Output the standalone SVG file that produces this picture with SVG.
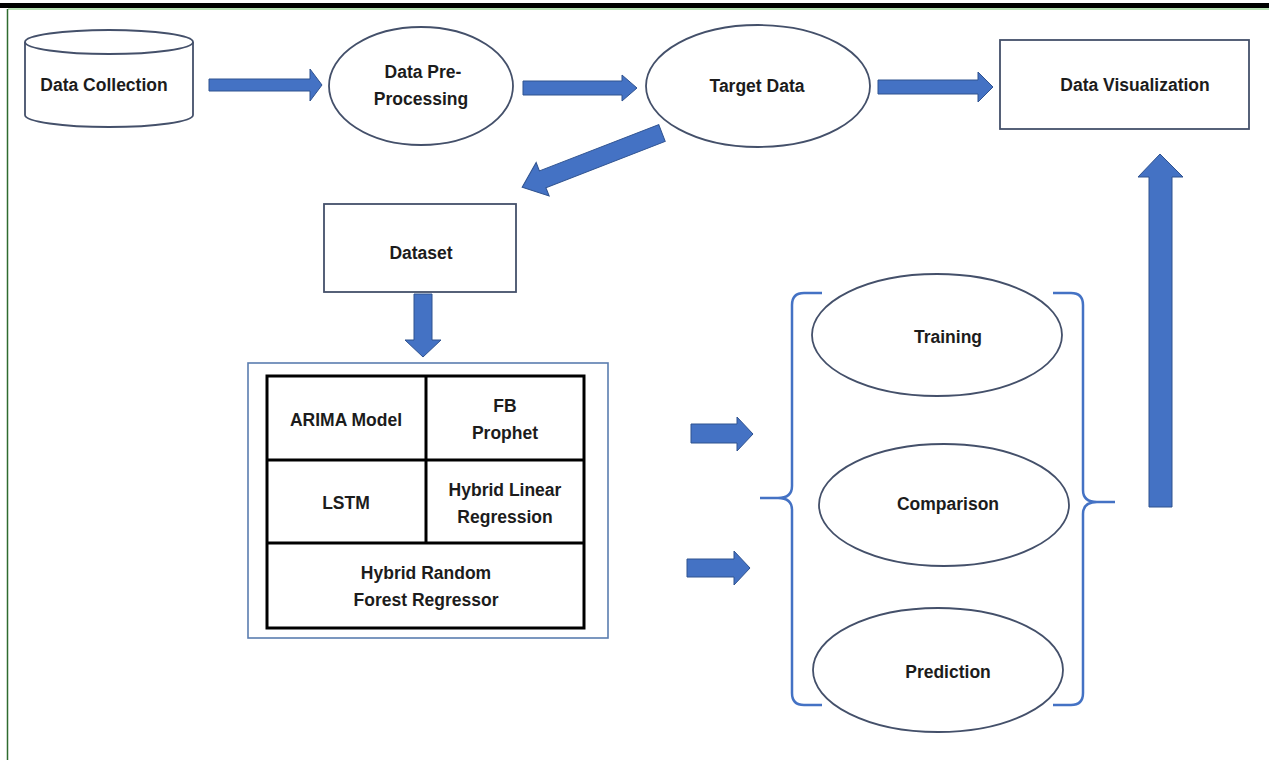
<svg xmlns="http://www.w3.org/2000/svg" width="1269" height="760" viewBox="0 0 1269 760">
<style>
.t{font-family:"Liberation Sans",Arial,sans-serif;font-weight:bold;font-size:17.5px;fill:#1c1c1c;text-anchor:middle;dominant-baseline:central}
.sh{fill:none;stroke:#4d5b78;stroke-width:1.6}
.sf{fill:#fff;stroke:#44506a;stroke-width:1.8}
.arr{fill:#4472c4;stroke:#2f528f;stroke-width:1}
.br{fill:none;stroke:#4472c4;stroke-width:2.5}
.tb{fill:none;stroke:#000;stroke-width:3}
</style>
<rect width="1269" height="760" fill="#fff"/>
<rect x="0" y="3" width="1269" height="5" fill="#000"/>
<line x1="8" y1="9" x2="1269" y2="9" stroke="#9fd89a" stroke-width="1.5"/>
<line x1="7.5" y1="9" x2="7.5" y2="760" stroke="#2f6b2f" stroke-width="1.5"/>

<g id="data-collection">
<path class="sf" d="M25,42 L25,115 A84,12 0 0 0 193,115 L193,42"/>
<ellipse class="sf" cx="109" cy="42" rx="84" ry="12"/>
<text class="t" x="104" y="85">Data Collection</text>
</g>
<g id="data-preprocessing">
<ellipse class="sf" cx="421" cy="86" rx="92" ry="59"/>
<text class="t" x="423" y="72">Data Pre-</text>
<text class="t" x="421" y="99">Processing</text>
</g>
<g id="target-data">
<ellipse class="sf" cx="758" cy="86" rx="112" ry="61"/>
<text class="t" x="757" y="86">Target Data</text>
</g>
<g id="data-visualization">
<rect class="sf" x="1000" y="40" width="249" height="89"/>
<text class="t" x="1135" y="85">Data Visualization</text>
</g>
<g id="dataset">
<rect class="sf" x="324" y="204" width="192" height="88"/>
<text class="t" x="421" y="253">Dataset</text>
</g>
<g id="models">
<rect x="248" y="363" width="360" height="275" fill="#fff" stroke="#5b7db0" stroke-width="1.6"/>
<rect class="tb" x="267" y="376" width="317" height="252"/>
<line class="tb" x1="426" y1="376" x2="426" y2="543"/>
<line class="tb" x1="267" y1="460" x2="584" y2="460"/>
<line class="tb" x1="267" y1="543" x2="584" y2="543"/>
<text class="t" x="346" y="420">ARIMA Model</text>
<text class="t" x="505" y="406">FB</text>
<text class="t" x="505" y="433">Prophet</text>
<text class="t" x="346" y="503">LSTM</text>
<text class="t" x="505" y="490">Hybrid Linear</text>
<text class="t" x="505" y="517">Regression</text>
<text class="t" x="426" y="573">Hybrid Random</text>
<text class="t" x="426" y="600">Forest Regressor</text>
</g>
<g id="training">
<ellipse class="sf" cx="937" cy="335" rx="125" ry="61"/>
<text class="t" x="948" y="337">Training</text>
</g>
<g id="comparison">
<ellipse class="sf" cx="944" cy="505" rx="125" ry="61"/>
<text class="t" x="948" y="504">Comparison</text>
</g>
<g id="prediction">
<ellipse class="sf" cx="938" cy="670" rx="125" ry="62"/>
<text class="t" x="948" y="672">Prediction</text>
</g>
<g id="braces">
<path class="br" d="M822,293 L804,293 Q792,293 792,305 L792,486 Q792,498 778,498 L760,498 M778,498 Q792,498 792,510 L792,693 Q792,705 804,705 L822,705"/>
<path class="br" d="M1053,293 L1071,293 Q1083,293 1083,305 L1083,490 Q1083,502 1097,502 L1115,502 M1097,502 Q1083,502 1083,514 L1083,693 Q1083,705 1071,705 L1053,705"/>
</g>
<g id="connectors">
<polygon class="arr" points="209,79 310,79 310,69 322,85 310,101 310,91 209,91"/>
<polygon class="arr" points="523,81 622,81 622,75 637,88 622,101 622,95 523,95"/>
<polygon class="arr" points="878,80 978,80 978,72 993,87 978,102 978,94 878,94"/>
<polygon class="arr" transform="translate(662,133) rotate(158.8)" points="0,-9 128,-9 128,-18 150,0 128,18 128,9 0,9"/>
<polygon class="arr" points="414,294 432,294 432,340 441,340 423,357 405,340 414,340"/>
<polygon class="arr" points="691,424 737,424 737,417 753,434 737,451 737,443 691,443"/>
<polygon class="arr" points="687,559 734,559 734,551 750,568 734,585 734,577 687,577"/>
<polygon class="arr" points="1149,507 1149,177 1138,177 1160,154 1183,177 1172,177 1172,507"/>
</g>
</svg>
